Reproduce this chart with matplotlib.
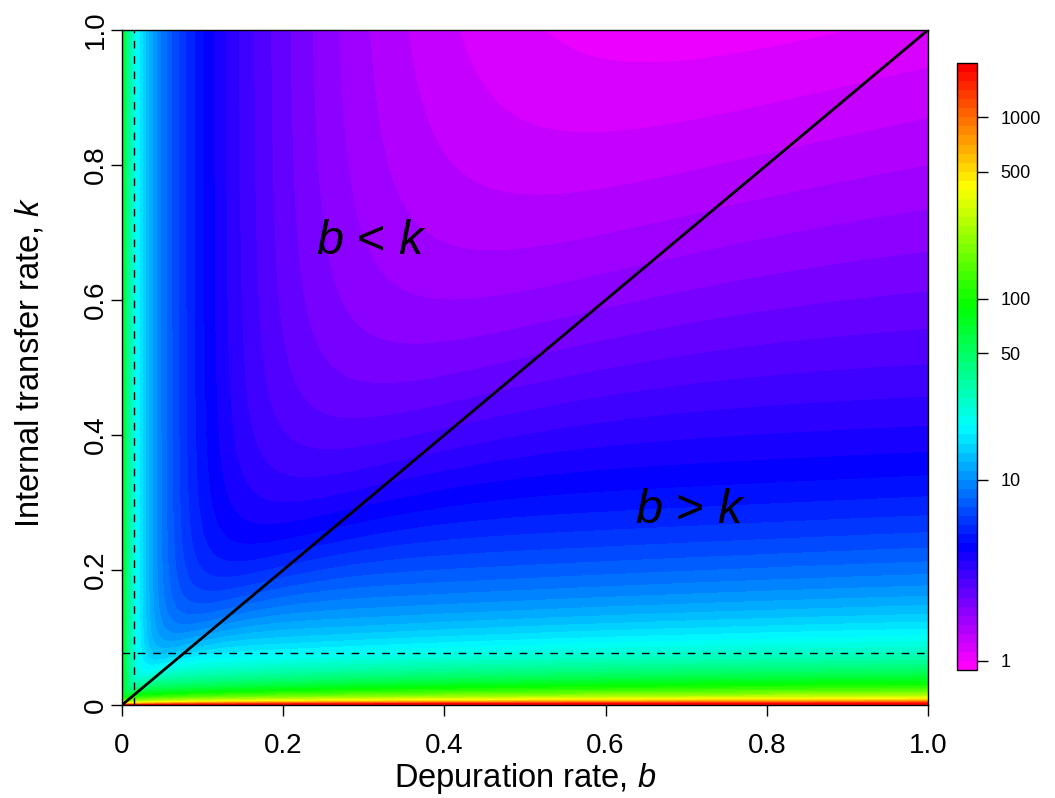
import colorsys

import numpy as np
import matplotlib
matplotlib.use("Agg")
import matplotlib.pyplot as plt

plt.rcParams["font.family"] = ["Liberation Sans", "DejaVu Sans"]
plt.rcParams["mathtext.fontset"] = "custom"
plt.rcParams["mathtext.rm"] = "Liberation Sans"
plt.rcParams["mathtext.it"] = "Liberation Sans:italic"

# ---- parameter ranges -------------------------------------------------------
b_range = (0.0, 1.0)          # depuration rate, b
k_range = (0.0, 1.0)          # internal transfer rate, k
n_grid = 601

# ---- response-surface constants ---------------------------------------------
b_background = 0.0045         # baseline loss that keeps the b = 0 edge finite
k_background = 0.0010         # baseline transfer that keeps the k = 0 edge finite
clearance_coef = 0.47         # weight of the 1/b (slow depuration) limb
transfer_coef = 0.95          # weight of the slow-transfer limb
transfer_power = 1.0 / 3.0
onset_rate = 1.3              # how quickly the transfer limb switches on near b = k

# ---- colour key (log10 levels) ----------------------------------------------
level_low, level_high, level_step = -0.05, 3.30, 0.05
key_ticks = [1, 10, 50, 100, 500, 1000]
key_labels = ["1", "10", "50", "100", "500", "1000"]

# ---- axes ticks / reference lines --------------------------------------------
axis_ticks = [0.0, 0.2, 0.4, 0.6, 0.8, 1.0]
axis_labels = ["0", "0.2", "0.4", "0.6", "0.8", "1.0"]
b_reference = 0.0148
k_reference = 0.077


def timescale(b, k):
    """Characteristic time of the two-rate system (same units as 1/rate)."""
    be = b + b_background
    ke = k + k_background
    r = be / ke
    g = (clearance_coef / r
         + transfer_coef * r ** transfer_power * (1.0 - np.exp(-onset_rate * r ** 2)))
    return g / ke


b = np.linspace(*b_range, n_grid)
k = np.linspace(*k_range, n_grid)
B, K = np.meshgrid(b, k)
levels = np.round(np.arange(level_low, level_high + 1e-9, level_step), 2)
Z = np.clip(np.log10(timescale(B, K)), levels[0] + 1e-6, levels[-1] - 1e-6)

n_bands = len(levels) - 1
band_colors = [colorsys.hsv_to_rgb((5.0 / 6.0) * (n_bands - 1 - i) / (n_bands - 1), 1.0, 1.0)
               for i in range(n_bands)]

W, H = 1055, 798
fig = plt.figure(figsize=(W / 100, H / 100), dpi=100)
ax = fig.add_axes([122 / W, 1 - 705 / H, (928 - 122) / W, (705 - 30) / H])
cax = fig.add_axes([957 / W, 1 - 670 / H, 20 / W, (670 - 63) / H])

cs = ax.contourf(B, K, Z, levels=levels, colors=band_colors, antialiased=False)

# regime boundary and reference rates
ax.plot(b_range, k_range, color="black", lw=2.0)
ax.axvline(b_reference, color="black", lw=1.0, dashes=(5.5, 5.5))
ax.axhline(k_reference, color="black", lw=1.0, dashes=(5.5, 5.5))

ax.text(0.310, 0.668, r"$b$ < $k$", fontsize=35, ha="center", va="baseline")
ax.text(0.705, 0.270, r"$b$ > $k$", fontsize=35, ha="center", va="baseline")

ax.set_xlim(b_range)
ax.set_ylim(k_range)
ax.set_xticks(axis_ticks)
ax.set_xticklabels(axis_labels)
ax.set_yticks(axis_ticks)
ax.set_yticklabels(axis_labels, rotation=90, va="center")
ax.tick_params(axis="both", direction="out", length=8, width=1.0, labelsize=20)
ax.tick_params(axis="x", pad=12)
ax.tick_params(axis="y", pad=1.5)
for s in ax.spines.values():
    s.set_linewidth(1.0)

fig.text(525 / W, 1 - 778 / H, r"Depuration rate, $b$", fontsize=23.5, ha="center", va="center")
fig.text(30 / W, 1 - 362 / H, r"Internal transfer rate, $k$", fontsize=23.5,
         ha="center", va="center", rotation=90)

cb = fig.colorbar(cs, cax=cax, ticks=np.log10(key_ticks))
cb.set_ticklabels(key_labels)
cb.outline.set_linewidth(1.0)
cax.tick_params(direction="out", length=8, width=1.0, labelsize=13, pad=9)

fig.savefig("out.png", dpi=100)
